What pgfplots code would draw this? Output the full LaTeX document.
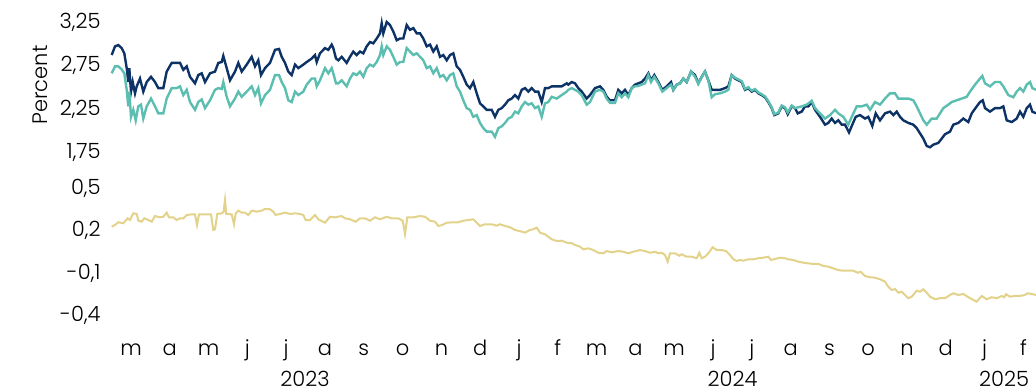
\documentclass[border=0pt]{standalone}
\usepackage{fontspec}
\setmainfont{Poppins}[UprightFont=* Light]
\usepackage{pgfplots}
\pgfplotsset{compat=1.18}
\definecolor{navy}{RGB}{12,50,102}
\definecolor{teal2}{RGB}{92,190,176}
\definecolor{khaki}{RGB}{226,210,138}
\newcommand{\lblfont}{\fontsize{10.5pt}{12pt}\selectfont}
\begin{document}
\begin{tikzpicture}
\path[use as bounding box] (0,0) rectangle (518pt,195.5pt);
\pgfplotsset{
  common/.style={
    scale only axis, width=462.2pt,
    xmin=111.6, xmax=1036,
    axis line style={draw=none}, tick style={draw=none},
    major tick length=0pt,
    clip=false,
    tick label style={font=\lblfont},
    yticklabel style={anchor=east, xshift=-2pt},
    /pgf/number format/assume math mode=true,
  }
}
% top panel
\begin{axis}[common,
  at={(55.8pt,112.725pt)}, anchor=south west,
  height=78.3pt, ymin=1.6, ymax=3.4,
  xtick=\empty,
  ytick={1.75,2.25,2.75,3.25},
  yticklabels={{1,75},{2,25},{2,75},{3,25}},
]
\addplot[navy, line width=1.2pt] coordinates {
(111.7,2.87)(115,2.97)(118.3,2.985)(121.7,2.95)(124.3,2.89)(126.7,2.72)(128.3,2.56)(129.3,2.72)(131,2.45)(132.7,2.56)(135,2.43)(136.7,2.51)(140,2.60)(143.3,2.45)(146.7,2.56)(151,2.62)(155,2.56)(158.3,2.49)(163.3,2.49)(166.7,2.68)(171.7,2.78)(176.7,2.78)(180,2.78)(183.3,2.70)(186.7,2.74)(190,2.62)(195,2.545)(198.3,2.64)(201.7,2.66)(205,2.56)(210,2.66)(215,2.68)(218.3,2.78)(221.7,2.79)(223.3,2.86)(226.7,2.72)(230,2.58)(235,2.68)(238.3,2.78)(241.7,2.68)(246.7,2.76)(251.7,2.85)(255,2.74)(258.3,2.81)(261,2.64)(265,2.72)(270,2.78)(275,2.93)(279,2.94)(281.7,2.85)(285,2.78)(288.3,2.68)(291.7,2.64)(295,2.76)(298.3,2.72)(303.3,2.76)(306.7,2.79)(311.7,2.83)(315,2.87)(316.7,2.79)(320,2.89)(325,2.95)(328.3,2.93)(331.7,2.99)(333.3,2.95)(336,2.83)(338.3,2.81)(341.7,2.85)(346.7,2.78)(350,2.85)(353.3,2.91)(356.7,2.87)(360,2.91)(363.3,2.89)(366.7,2.97)(370,3.02)(373.3,3.005)(376.7,3.06)(380,3.12)(381.7,3.235)(383.3,3.12)(386.7,3.25)(390,3.215)(393.3,3.14)(396.7,3.04)(400,3.06)(403.3,3.06)(406.7,3.215)(410,3.16)(413.3,3.18)(416.7,3.12)(420,3.12)(423.3,3.06)(426.7,2.97)(430,2.99)(433.3,2.91)(436.7,2.97)(440,2.85)(443.3,2.87)(446.7,2.81)(450,2.87)(453.3,2.89)(456.7,2.74)(460,2.70)(463.3,2.62)(466.7,2.53)(470,2.49)(473.3,2.56)(476.7,2.43)(480,2.315)(483.3,2.28)(486.7,2.24)(491.7,2.24)(495,2.16)(498.3,2.24)(501.7,2.26)(505,2.30)(508.3,2.35)(511.7,2.37)(515,2.41)(518.3,2.37)(521.7,2.47)(525,2.49)(528.3,2.45)(531.7,2.49)(535,2.45)(538.3,2.45)(541.7,2.33)(545,2.49)(548.3,2.49)(551.7,2.51)(556.7,2.51)(561.7,2.51)(566.7,2.545)(568.3,2.53)(571.7,2.56)(575,2.545)(578.3,2.49)(581.7,2.45)(586.7,2.37)(590,2.41)(595,2.49)(600,2.51)(603.3,2.47)(606.7,2.39)(610,2.35)(615,2.35)(618.3,2.47)(621.7,2.43)(625,2.47)(628.3,2.41)(631.7,2.49)(635,2.53)(638.3,2.545)(641.7,2.56)(645,2.60)(648.3,2.66)(651,2.58)(654.3,2.64)(658.3,2.56)(662.3,2.47)(666.7,2.51)(671,2.56)(673.3,2.47)(676.7,2.53)(680,2.545)(683.3,2.60)(686.7,2.56)(691,2.68)(695,2.64)(698.3,2.545)(701.7,2.62)(705,2.68)(708.3,2.58)(711.7,2.47)(715,2.47)(720,2.47)(725,2.49)(728.3,2.51)(731.7,2.64)(735,2.60)(738.3,2.58)(741.7,2.56)(745,2.47)(748.3,2.49)(751.7,2.45)(755,2.47)(758.3,2.43)(761.7,2.41)(765,2.385)(768.3,2.33)(771.7,2.26)(774.3,2.18)(778.3,2.20)(781.7,2.28)(785,2.26)(787.7,2.19)(791.7,2.28)(795,2.26)(797.7,2.20)(801.7,2.22)(805,2.28)(808.3,2.28)(811.7,2.33)(815,2.24)(820,2.16)(825,2.07)(828.3,2.09)(831.7,2.14)(835,2.09)(838.3,2.12)(841.7,2.07)(845,2.07)(849,1.98)(852.3,2.07)(855.7,2.16)(860,2.18)(865,2.14)(868.3,2.16)(872.3,2.055)(875.7,2.20)(880,2.12)(885,2.20)(890,2.22)(893.3,2.18)(896.7,2.22)(900,2.16)(903.3,2.12)(908.3,2.09)(913.3,2.07)(916.7,2.03)(920,1.97)(923.3,1.91)(926.7,1.825)(930,1.81)(933.3,1.84)(938.3,1.86)(941.7,1.91)(945,1.96)(950,1.99)(953.3,2.07)(958.3,2.09)(963.3,2.14)(968.3,2.10)(971.7,2.20)(976.7,2.28)(980,2.33)(982.7,2.35)(985,2.26)(990,2.22)(995,2.26)(1000,2.26)(1003.3,2.28)(1006.7,2.12)(1011.7,2.10)(1016.7,2.14)(1020,2.22)(1023.3,2.16)(1026.7,2.26)(1030,2.30)(1032.3,2.22)(1036,2.20)
};
\addplot[teal2, line width=1.2pt] coordinates {
(111.7,2.66)(115,2.74)(118.3,2.74)(121.7,2.705)(124.3,2.66)(126.7,2.47)(128.3,2.28)(129.3,2.45)(131,2.16)(133.3,2.24)(135.7,2.12)(138.3,2.28)(141,2.30)(143.3,2.14)(146.7,2.28)(151,2.37)(155,2.28)(158.3,2.20)(163.3,2.20)(166.7,2.37)(171.7,2.49)(176.7,2.49)(180,2.51)(183.3,2.41)(186.7,2.47)(190,2.33)(195,2.24)(198.3,2.33)(201.7,2.36)(205,2.26)(210,2.35)(215,2.47)(218.3,2.49)(221.7,2.48)(223.3,2.56)(226.7,2.39)(230,2.28)(235,2.37)(238.3,2.45)(241.7,2.39)(246.7,2.45)(251.7,2.51)(255,2.41)(258.3,2.49)(261,2.315)(265,2.41)(270,2.47)(275,2.64)(279,2.64)(281.7,2.56)(285,2.49)(288.3,2.35)(291.7,2.33)(295,2.45)(298.3,2.41)(303.3,2.45)(306.7,2.53)(311.7,2.60)(315,2.60)(316.7,2.51)(320,2.58)(325,2.72)(328.3,2.66)(331.7,2.72)(333.3,2.66)(336,2.545)(338.3,2.545)(341.7,2.58)(346.7,2.51)(350,2.60)(353.3,2.66)(356.7,2.64)(360,2.68)(363.3,2.62)(366.7,2.72)(370,2.76)(373.3,2.74)(376.7,2.79)(380,2.87)(381.7,2.97)(383.3,2.87)(386.7,2.97)(390,2.93)(393.3,2.85)(396.7,2.76)(400,2.79)(403.3,2.79)(406.7,2.95)(410,2.91)(413.3,2.87)(416.7,2.89)(420,2.85)(423.3,2.81)(426.7,2.72)(430,2.74)(433.3,2.66)(436.7,2.72)(440,2.62)(443.3,2.64)(446.7,2.58)(450,2.64)(453.3,2.66)(456.7,2.51)(460,2.45)(463.3,2.35)(466.7,2.26)(470,2.24)(473.3,2.16)(476.7,2.18)(480,2.09)(483.3,2.03)(486.7,1.99)(491.7,1.99)(495,1.93)(498.3,2.03)(501.7,2.05)(505,2.09)(508.3,2.14)(511.7,2.16)(515,2.22)(518.3,2.20)(521.7,2.28)(525,2.33)(528.3,2.30)(531.7,2.315)(535,2.26)(538.3,2.28)(541.7,2.16)(545,2.315)(548.3,2.33)(551.7,2.39)(556.7,2.37)(561.7,2.41)(566.7,2.45)(568.3,2.47)(571.7,2.49)(575,2.47)(578.3,2.45)(581.7,2.41)(586.7,2.30)(590,2.33)(595,2.45)(600,2.47)(603.3,2.45)(606.7,2.37)(610,2.32)(615,2.32)(618.3,2.43)(621.7,2.385)(625,2.43)(628.3,2.385)(631.7,2.49)(635,2.51)(638.3,2.515)(641.7,2.53)(645,2.545)(648.3,2.64)(651,2.56)(654.3,2.62)(658.3,2.545)(662.3,2.45)(666.7,2.49)(671,2.53)(673.3,2.47)(676.7,2.53)(680,2.54)(683.3,2.60)(686.7,2.56)(691,2.68)(695,2.62)(698.3,2.54)(701.7,2.62)(705,2.68)(708.3,2.58)(711.7,2.385)(715,2.42)(720,2.43)(725,2.45)(728.3,2.47)(731.7,2.64)(735,2.61)(738.3,2.59)(741.7,2.57)(745,2.48)(748.3,2.50)(751.7,2.46)(755,2.48)(758.3,2.44)(761.7,2.42)(765,2.395)(768.3,2.34)(771.7,2.27)(774.3,2.19)(778.3,2.21)(781.7,2.29)(785,2.27)(787.7,2.21)(791.7,2.29)(795,2.26)(801.7,2.28)(806.7,2.30)(811.7,2.345)(815,2.26)(820,2.20)(825,2.14)(830,2.18)(835,2.24)(838.3,2.20)(843.3,2.16)(848.3,2.07)(851.7,2.16)(856.7,2.28)(861.7,2.28)(866.7,2.30)(870,2.24)(875,2.33)(880,2.30)(885,2.37)(890,2.43)(895,2.43)(898.3,2.37)(903.3,2.37)(908.3,2.37)(913.3,2.35)(916.7,2.28)(920,2.20)(923.3,2.12)(926.7,2.07)(931.7,2.14)(936.7,2.14)(940,2.20)(943.3,2.26)(948.3,2.30)(951.7,2.33)(956.7,2.35)(961.7,2.37)(966.7,2.39)(970,2.45)(975,2.53)(980,2.60)(982.3,2.63)(985,2.545)(990,2.51)(995,2.56)(1000,2.56)(1003.3,2.51)(1008.3,2.41)(1013.3,2.385)(1016.7,2.45)(1020,2.49)(1023.3,2.45)(1026.7,2.53)(1030,2.56)(1032.3,2.49)(1036,2.47)
};
\end{axis}
% bottom panel
\begin{axis}[common,
  at={(55.8pt,34.2pt)}, anchor=south west,
  height=70.85pt, ymin=-0.45, ymax=0.55,
  ytick={-0.4,-0.1,0.2,0.5},
  yticklabels={{-0,4},{-0,1},{0,2},{0,5}},
  xtick={131.0,169.8,208.6,247.4,286.2,325.0,363.8,402.6,441.4,480.2,519.0,557.8,596.6,635.4,674.2,713.0,751.8,790.6,829.4,868.2,907.0,945.8,984.6,1023.4},
  xticklabels={m,a,m,j,j,a,s,o,n,d,j,f,m,a,m,j,j,a,s,o,n,d,j,f},
  xticklabel style={anchor=base, yshift=-16.2pt},
  extra x ticks={305,732.5,1004},
  extra x tick labels={2023,2024,2025},
  extra x tick style={xticklabel style={yshift=-15.5pt}},
]
\addplot[khaki, line width=1pt] coordinates {
(111.7,0.227)(115,0.239)(118.3,0.258)(123.3,0.251)(127.7,0.286)(130,0.274)(133.3,0.321)(136.7,0.317)(138.3,0.269)(141.7,0.262)(144.3,0.286)(148.3,0.274)(151.7,0.262)(155,0.302)(160,0.293)(163.3,0.297)(166.7,0.326)(169,0.293)(173.3,0.293)(176.7,0.274)(180,0.286)(183.3,0.286)(186.7,0.309)(191.7,0.314)(195,0.314)(197,0.239)(199,0.314)(205,0.314)(211,0.314)(213.3,0.204)(215,0.209)(217.3,0.317)(221.7,0.321)(223.5,0.33)(225,0.415)(226.2,0.317)(231.7,0.314)(234,0.244)(235.7,0.321)(238.3,0.340)(241.7,0.326)(245,0.326)(248.3,0.309)(251.7,0.340)(256.7,0.333)(261.7,0.340)(265,0.352)(270,0.350)(273.3,0.333)(275.7,0.309)(280,0.317)(285,0.326)(290,0.317)(295,0.321)(300,0.317)(303.3,0.309)(305.7,0.274)(310,0.274)(315,0.309)(318.3,0.279)(325,0.255)(330,0.297)(335,0.293)(341.7,0.302)(345,0.286)(350,0.279)(355.7,0.262)(360,0.286)(365,0.286)(370,0.269)(375,0.293)(380,0.279)(386.7,0.297)(391.7,0.286)(398.3,0.286)(402.7,0.269)(405,0.175)(407.3,0.293)(413.3,0.293)(420,0.302)(425,0.297)(430,0.269)(435,0.262)(438.3,0.232)(442.3,0.239)(446.7,0.255)(453.3,0.258)(458.3,0.258)(463.3,0.269)(468.3,0.274)(473.3,0.279)(476.7,0.255)(480,0.232)(485,0.244)(491.7,0.244)(496.7,0.234)(500,0.244)(505,0.232)(510,0.223)(515,0.204)(521.7,0.192)(525,0.185)(530,0.204)(533.3,0.209)(536.7,0.220)(540,0.185)(545,0.173)(551.7,0.138)(556.7,0.126)(561.7,0.128)(566.7,0.114)(571.7,0.110)(575,0.098)(580,0.086)(583.3,0.067)(588.3,0.074)(593.3,0.062)(598.3,0.043)(603.3,0.039)(606.7,0.055)(611.7,0.046)(618.3,0.055)(623.3,0.050)(628.3,0.039)(633.3,0.050)(640,0.062)(645,0.055)(650,0.043)(655,0.050)(658.3,0.039)(661.7,0.043)(665,0.027)(667.7,-0.020)(670,0.039)(675,0.039)(679.3,0.022)(681.7,0.032)(686.7,0.015)(691.7,0.015)(696.7,0.004)(699.3,0.043)(701.7,0.004)(705,0.015)(708.3,0.039)(712.7,0.082)(716.7,0.062)(721.7,0.062)(726,0.055)(730,0.027)(733.3,-0.003)(736.7,-0.015)(740,-0.008)(743.3,-0.013)(748.3,-0.003)(753.3,-0.003)(758.3,0.004)(763.3,0.008)(768.3,0.015)(771,-0.008)(775,-0.001)(780,0.008)(785,0.004)(788.3,-0.003)(793.3,-0.008)(798.3,-0.020)(803.3,-0.027)(808.3,-0.032)(813.3,-0.036)(818.3,-0.036)(823.3,-0.050)(828.3,-0.055)(833.3,-0.067)(838.3,-0.079)(843.3,-0.084)(848.3,-0.084)(853.3,-0.084)(857.7,-0.098)(860.7,-0.091)(865,-0.121)(870,-0.130)(875,-0.133)(880,-0.144)(885,-0.161)(888.3,-0.197)(891.7,-0.220)(895,-0.213)(898.3,-0.239)(901.7,-0.232)(905,-0.255)(908.3,-0.278)(911.7,-0.267)(916.7,-0.225)(920,-0.232)(923.3,-0.215)(926.7,-0.239)(930,-0.267)(935,-0.285)(940,-0.278)(945,-0.278)(950,-0.255)(953.3,-0.243)(958.3,-0.255)(963.3,-0.248)(968.3,-0.271)(973.3,-0.290)(976.7,-0.302)(981.7,-0.262)(986.7,-0.285)(991.7,-0.271)(996.7,-0.278)(1001.7,-0.262)(1004.3,-0.271)(1006,-0.250)(1010,-0.267)(1015,-0.262)(1020,-0.262)(1025,-0.255)(1027.3,-0.243)(1031.7,-0.248)(1036,-0.255)
};
\end{axis}
\node[rotate=90, font=\lblfont, anchor=center] at (20pt,153pt) {Percent};
\end{tikzpicture}
\end{document}
